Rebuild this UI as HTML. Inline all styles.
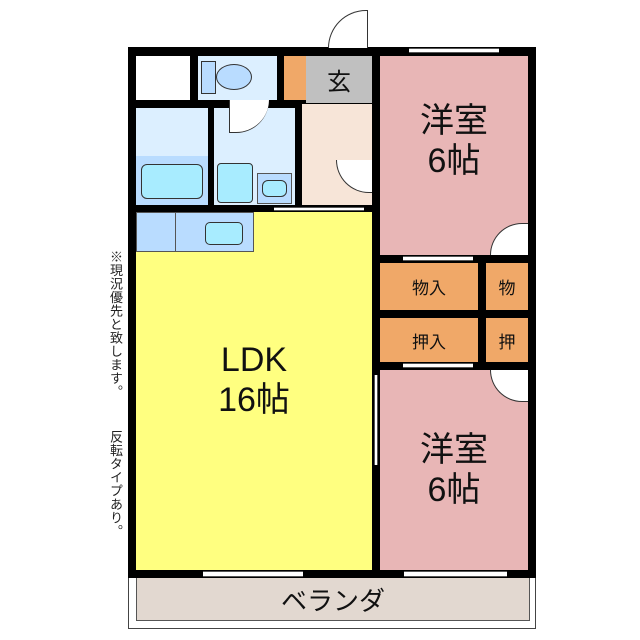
<!DOCTYPE html>
<html><head><meta charset="utf-8"><style>
body{margin:0;width:640px;height:640px;background:#fff;position:relative;overflow:hidden;font-family:"Liberation Sans","Noto Sans CJK JP",sans-serif}
div{position:absolute;box-sizing:border-box}
.t{display:flex;align-items:center;justify-content:center;text-align:center;color:#111}
.win{background:#fff;border-top:1px solid #555;border-bottom:1px solid #555}
</style></head><body>
<div style="left:128px;top:47px;width:408px;height:531px;background:#000"></div>
<div style="left:136px;top:56px;width:54px;height:44px;background:#fff"></div>
<div style="left:198px;top:56px;width:79px;height:44px;background:#dcefff"></div>
<div style="left:201px;top:61px;width:15px;height:33px;background:#b9dcff;border:1px solid #333"></div>
<div style="left:216px;top:64px;width:36px;height:26px;background:#b9dcff;border:1px solid #333;border-radius:50%"></div>
<div style="left:284px;top:56px;width:22px;height:44px;background:#f0a868"></div>
<div style="left:306px;top:56px;width:66px;height:47px;background:#c0c0c0;font-size:24px" class="t">玄</div>
<div style="left:136px;top:108px;width:72px;height:97px;background:#dcefff"></div>
<div style="left:136px;top:156px;width:72px;height:49px;background:#b9dcff"></div>
<div style="left:141px;top:164px;width:62px;height:35px;background:#a8ecff;border:1px solid #333;border-radius:6px"></div>
<div style="left:214px;top:108px;width:81px;height:97px;background:#dcefff"></div>
<div style="left:217px;top:163px;width:36px;height:40px;background:#a8ecff;border:1px solid #333;border-radius:4px"></div>
<div style="left:257px;top:173px;width:35px;height:31px;background:#b9dcff;border:1px solid #555"></div>
<div style="left:262px;top:180px;width:25px;height:17px;background:#a8ecff;border:1px solid #333;border-radius:6px"></div>
<div style="left:229px;top:100px;width:40px;height:33px;background:#fff;border-left:1px solid #333;border-bottom:1px solid #333;border-radius:0 0 40px 0"></div>
<div style="left:302px;top:104px;width:70px;height:101px;background:#f7e5d8"></div>
<div style="left:336px;top:160px;width:36px;height:33px;background:#fff;border-left:1px solid #333;border-bottom:1px solid #333;border-radius:0 0 0 36px"></div>
<div style="left:136px;top:212px;width:236px;height:358px;background:#ffff80"></div>
<div style="left:136px;top:212px;width:118px;height:40px;background:#b9dcff;border:1px solid #555"></div>
<div style="left:175px;top:212px;width:1px;height:40px;background:#555"></div>
<div style="left:205px;top:222px;width:38px;height:23px;background:#a8ecff;border:1px solid #333;border-radius:5px"></div>
<div style="left:274px;top:207px;width:90px;height:4px" class="win"></div>
<div class="t" style="left:136px;top:330px;width:236px;height:100px;font-size:34px;line-height:40px">LDK<br>16帖</div>
<div class="t" style="left:380px;top:56px;width:148px;height:199px;background:#e8b6b6;font-size:34px;line-height:40px;padding-bottom:30px">洋室<br>6帖</div>
<div style="left:490px;top:223px;width:38px;height:32px;background:#fff;border-left:1px solid #333;border-top:1px solid #333;border-radius:38px 0 0 0"></div>
<div style="left:380px;top:255px;width:148px;height:8px;background:#000"></div>
<div style="left:403px;top:256px;width:70px;height:5px" class="win"></div>
<div class="t" style="left:380px;top:263px;width:98px;height:47px;background:#f0a868;font-size:17px">物入</div>
<div class="t" style="left:486px;top:263px;width:42px;height:47px;background:#f0a868;font-size:17px">物</div>
<div class="t" style="left:380px;top:318px;width:98px;height:44px;background:#f0a868;font-size:17px">押入</div>
<div class="t" style="left:486px;top:318px;width:42px;height:44px;background:#f0a868;font-size:17px">押</div>
<div style="left:403px;top:363px;width:70px;height:5px" class="win"></div>
<div class="t" style="left:380px;top:370px;width:148px;height:200px;background:#e8b6b6;font-size:34px;line-height:40px">洋室<br>6帖</div>
<div style="left:490px;top:370px;width:38px;height:32px;background:#fff;border-left:1px solid #333;border-bottom:1px solid #333;border-radius:0 0 0 38px"></div>
<div style="left:374px;top:375px;width:4px;height:90px;background:#fff;border-left:1px solid #555;border-right:1px solid #555"></div>
<div style="left:203px;top:571px;width:100px;height:6px" class="win"></div>
<div style="left:404px;top:571px;width:103px;height:6px" class="win"></div>
<div style="left:328px;top:10px;width:40px;height:38px;background:#fff;border-left:1px solid #333;border-top:1px solid #333;border-right:1px solid #333;border-radius:40px 0 0 0"></div>
<div style="left:409px;top:48px;width:90px;height:5px" class="win"></div>
<div style="left:128px;top:578px;width:408px;height:51px;border:1px solid #444;border-top:none;background:#fff"></div>
<div class="t" style="left:136px;top:578px;width:394px;height:43px;background:#e2d8d0;border:1px solid #555;border-top:none;font-size:26px">ベランダ</div>
<div style="left:103px;top:250px;width:20px;font-size:13px;line-height:16px;letter-spacing:0.5px;writing-mode:vertical-rl;color:#222">※現況優先と致します。</div>
<div style="left:103px;top:430px;width:20px;font-size:13px;line-height:16px;letter-spacing:0.5px;writing-mode:vertical-rl;color:#222">反転タイプあり。</div>
</body></html>
